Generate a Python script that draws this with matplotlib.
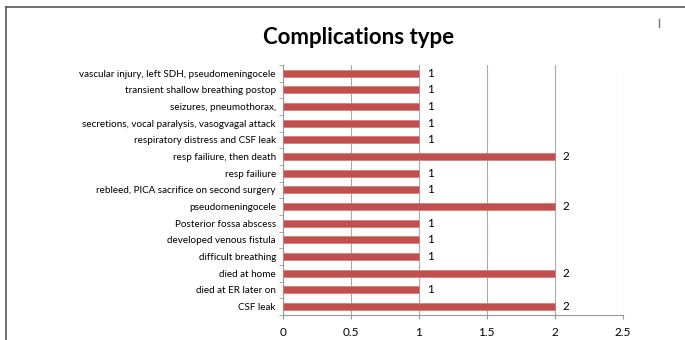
import matplotlib.pyplot as plt
from matplotlib.lines import Line2D

categories = ['CSF leak', 'died at ER later on', 'died at home', 'difficult breathing',
              'developed venous fistula', 'Posterior fossa abscess', 'pseudomeningocele',
              'rebleed, PICA sacrifice on second surgery', 'resp failiure',
              'resp failiure, then death', 'respiratory distress and CSF leak',
              'secretions, vocal paralysis, vasogvagal attack', 'seizures, pneumothorax,',
              'transient shallow breathing postop',
              'vascular injury, left SDH, pseudomeningocele']
counts = [2, 1, 2, 1, 1, 1, 2, 1, 1, 2, 1, 1, 1, 1, 1]
xticks = [0, 0.5, 1, 1.5, 2, 2.5]

plt.rcParams['font.family'] = ['Lato', 'DejaVu Sans']

fig = plt.figure(figsize=(6.85, 3.4), dpi=100)
ax = fig.add_axes([0.413, 0.074, 0.496, 0.735])

y = list(range(len(categories)))
ax.barh(y, counts, height=0.42, color='#C0504D', edgecolor='#D47a78', linewidth=0.5, zorder=3)
for yi, v in zip(y, counts):
    ax.text(v + 0.06, yi, str(v), va='center', ha='left', fontsize=8.5)

ax.set_xlim(0, 2.5)
ax.set_ylim(-0.5, len(categories) - 0.5)
ax.set_xticks(xticks)
ax.set_xticklabels(['0', '0.5', '1', '1.5', '2', '2.5'], fontsize=8.5)
ax.set_yticks(y)
ax.set_yticklabels(categories, fontsize=7.1)
ax.tick_params(axis='y', length=0, pad=5)
ax.set_yticks([i - 0.5 for i in range(len(categories) + 1)], minor=True)
ax.tick_params(axis='y', which='minor', length=3, color='#999999')
ax.tick_params(axis='x', length=3, color='#999999', pad=6)
ax.grid(axis='x', color='#aaaaaa', linewidth=0.8, zorder=0)
for s in ['top', 'right']:
    ax.spines[s].set_visible(False)
for s in ['left', 'bottom']:
    ax.spines[s].set_color('#999999')

fig.text(0.523, 0.89, 'Complications type', ha='center', va='center', fontsize=16, fontweight='bold')

# outer frame
fig.add_artist(Line2D([0.009, 1.0], [0.98, 0.98], color='#555555', linewidth=1.2))
fig.add_artist(Line2D([0.009, 0.009], [0.0, 0.98], color='#555555', linewidth=1.2))
fig.add_artist(Line2D([0.962, 0.962], [0.92, 0.945], color='#777777', linewidth=1))

fig.savefig('out.png', dpi=100)
